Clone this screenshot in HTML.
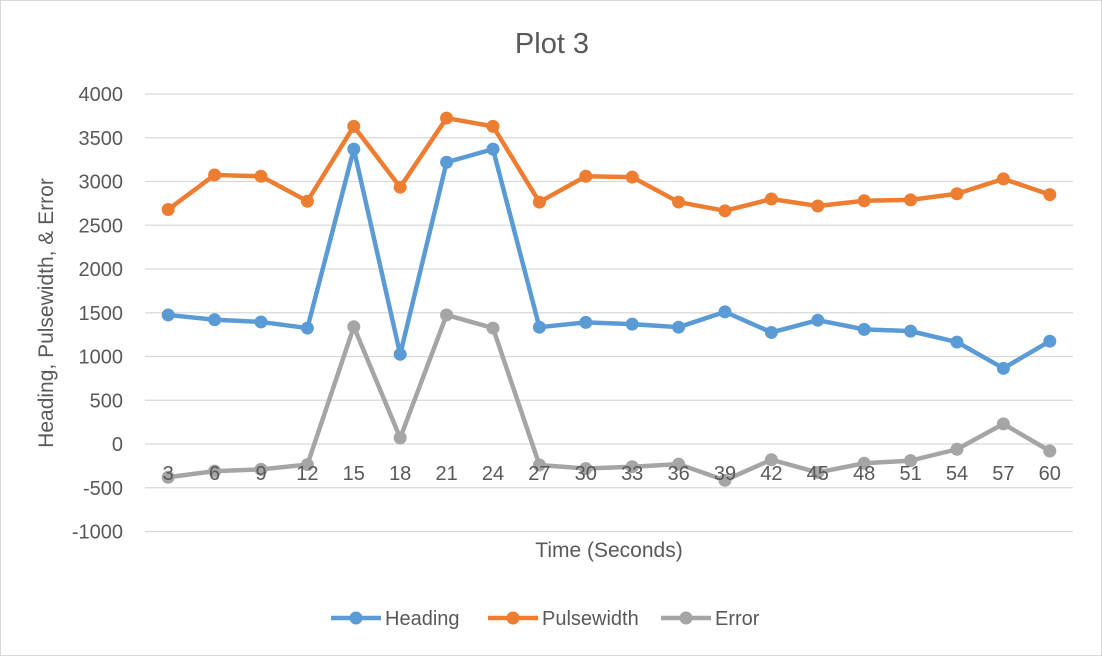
<!DOCTYPE html>
<html><head><meta charset="utf-8"><style>
body{margin:0;background:#fff;}
svg{display:block;font-family:"Liberation Sans",Calibri,sans-serif;}
</style></head><body>
<svg id="chart" width="1102" height="656">
<rect x="0.5" y="0.5" width="1101" height="655" fill="#fff" stroke="#d9d9d9"/>
<text x="552" y="53" text-anchor="middle" font-size="29" fill="#595959">Plot 3</text>
<g id="grid"></g><g id="yticks"></g><g id="series"></g><g id="xticks"></g>
<text transform="translate(53,313) rotate(-90)" text-anchor="middle" font-size="21" fill="#595959">Heading, Pulsewidth, &amp; Error</text>
<text x="609" y="557" text-anchor="middle" font-size="21" fill="#595959">Time (Seconds)</text>
<g id="legend"></g>
</svg>
<script>
const categories=[3,6,9,12,15,18,21,24,27,30,33,36,39,42,45,48,51,54,57,60];
const heading=[1475,1420,1395,1325,3370,1025,3220,3370,1335,1390,1370,1335,1510,1275,1415,1310,1290,1165,865,1175];
const pulsewidth=[2680,3075,3060,2775,3630,2935,3725,3630,2765,3060,3050,2765,2665,2800,2720,2780,2790,2860,3030,2850];
const errorVals=[-380,-310,-290,-235,1340,70,1475,1325,-240,-280,-260,-230,-415,-180,-325,-220,-190,-60,230,-80];
const yTicks=[-1000,-500,0,500,1000,1500,2000,2500,3000,3500,4000];
const NS="http://www.w3.org/2000/svg";
const L=145,R=1073,T=94,B=531.5,yMin=-1000,yMax=4000;
const step=(R-L)/categories.length;
const xs=i=>L+step*(i+0.5);
const ys=v=>B-(v-yMin)/(yMax-yMin)*(B-T);
function mk(tag,attrs,parent,txt){const e=document.createElementNS(NS,tag);for(const k in attrs)e.setAttribute(k,attrs[k]);if(txt!==undefined)e.textContent=txt;parent.appendChild(e);return e;}
const grid=document.getElementById('grid'),yt=document.getElementById('yticks');
yTicks.forEach(v=>{
 const l=mk('line',{x1:L,x2:R,y1:ys(v),y2:ys(v),stroke:'#d9d9d9','stroke-width':1.3},grid);
 
 
 const t=mk('text',{x:123,y:ys(v)+7,'text-anchor':'end','font-size':20,fill:'#595959'},yt,String(v));
 
 
});
const sg=document.getElementById('series');
const series=[['heading',heading,'#5b9bd5'],['pulsewidth',pulsewidth,'#ed7d31'],['error',errorVals,'#a5a5a5']];
series.forEach(([n,d,c])=>{
 const g=mk('g',{},sg);
 
 
 const p=mk('polyline',{points:d.map((v,i)=>xs(i)+','+ys(v)).join(' '),fill:'none',stroke:c,'stroke-width':4.5,'stroke-linejoin':'round'},g);
 
 
 d.forEach((v,i)=>{
  const m=mk('circle',{cx:xs(i),cy:ys(v),r:6.5,fill:c},g);
  
  
 });
});
const xt=document.getElementById('xticks');
categories.forEach((c,i)=>{
 const t=mk('text',{x:xs(i),y:ys(0)+36,'text-anchor':'middle','font-size':20,fill:'#595959'},xt,String(c));
 
 
});
const lg=document.getElementById('legend');
const leg=[['Heading',335,'#5b9bd5'],['Pulsewidth',492,'#ed7d31'],['Error',665,'#a5a5a5']];
leg.forEach(([n,x,c])=>{
 const g=mk('g',{},lg);
 
 
 mk('line',{x1:x-4,x2:x+46,y1:618,y2:618,stroke:c,'stroke-width':4.5},g);
 mk('circle',{cx:x+21,cy:618,r:6.5,fill:c},g);
 mk('text',{x:x+50,y:625,'font-size':20,fill:'#595959'},g,n);
});
</script>
</body></html>
